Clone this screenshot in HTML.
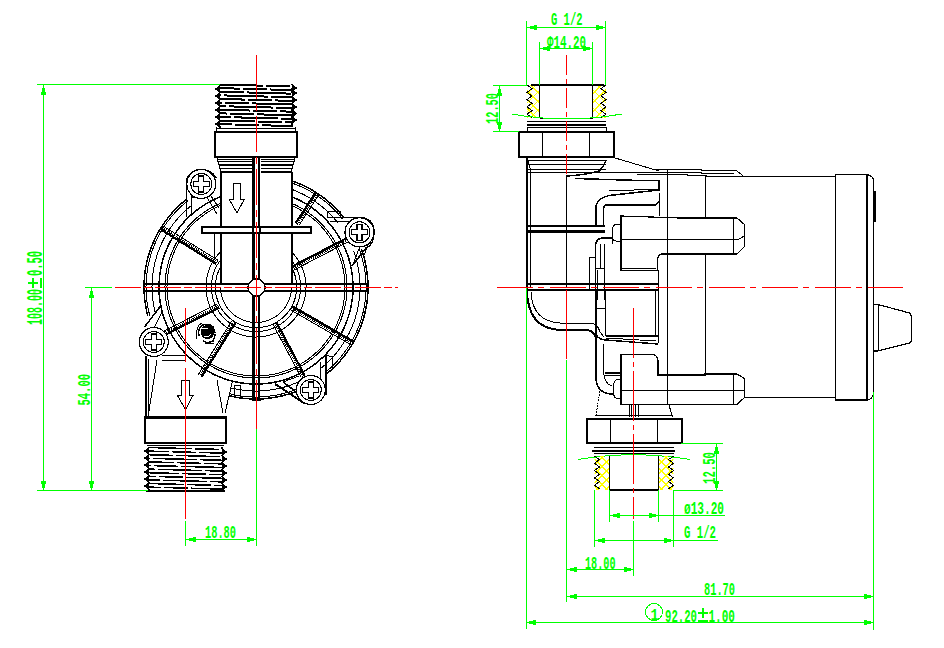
<!DOCTYPE html>
<html><head><meta charset="utf-8"><style>
html,body{margin:0;padding:0;background:#fff;width:944px;height:648px;overflow:hidden}
svg{display:block}
text{font-family:"Liberation Mono",monospace}
</style></head><body>
<svg width="944" height="648" viewBox="0 0 944 648" shape-rendering="crispEdges">
<polyline points="187.0,198.7 182.5,202.5 178.1,206.6 173.9,210.8 170.0,215.3 166.3,220.0 162.9,224.8 159.7,229.8 156.8,235.0 154.2,240.4 151.8,245.9 149.8,251.5 148.0,257.2 146.6,262.9 145.5,268.8 144.7,274.7 144.2,280.6 144.0,286.6 144.1,292.5 144.6,298.4 145.4,304.3 146.4,310.2 147.8,316.0" stroke="#000" stroke-width="1.5" fill="none" />
<polyline points="228.9,395.7 234.8,397.0 240.7,398.0 246.7,398.6 252.7,399.0 258.7,399.0 264.7,398.7 270.7,398.0 276.6,397.1 282.5,395.8 288.3,394.2 294.0,392.3 299.6,390.2 305.1,387.7" stroke="#000" stroke-width="1.5" fill="none" />
<polyline points="326.5,374.0 331.1,370.1 335.4,366.0 339.6,361.6 343.5,357.0 347.1,352.1 350.5,347.1 353.6,342.0 356.4,336.6 358.9,331.2 361.2,325.5 363.1,319.8 364.7,314.0 366.0,308.1 367.0,302.2 367.6,296.2 368.0,290.1 368.0,284.1 367.6,278.1 367.0,272.1 366.0,266.1 364.8,260.2 363.2,254.4 361.2,248.7" stroke="#000" stroke-width="1.5" fill="none" />
<polyline points="344.3,218.0 340.5,213.5 336.5,209.1 332.3,205.0 327.9,201.1 323.2,197.4 318.4,194.0 313.4,190.8 308.3,187.9 303.0,185.3 297.5,183.0 292.0,180.9" stroke="#000" stroke-width="1.5" fill="none" />
<polyline points="188.3,200.3 183.8,204.0 179.5,208.0 175.4,212.2 171.5,216.6 167.9,221.1 164.5,225.9 161.4,230.9 158.5,236.0 156.0,241.2 153.7,246.6 151.7,252.1 150.0,257.7 148.6,263.4 147.5,269.1 146.7,274.9 146.2,280.7 146.0,286.6 146.1,292.4 146.6,298.2 147.3,304.0 148.4,309.8 149.7,315.5" stroke="#000" stroke-width="1" fill="none" />
<polyline points="229.4,393.7 235.2,395.0 241.0,396.0 246.9,396.6 252.8,397.0 258.7,397.0 264.6,396.7 270.4,396.0 276.3,395.1 282.0,393.9 287.7,392.3 293.3,390.5 298.8,388.3 304.2,385.9" stroke="#000" stroke-width="1" fill="none" />
<polyline points="325.2,372.5 329.7,368.6 334.0,364.5 338.1,360.2 341.9,355.7 345.5,351.0 348.8,346.1 351.8,341.0 354.6,335.7 357.1,330.4 359.3,324.9 361.2,319.2 362.8,313.5 364.0,307.7 365.0,301.9 365.6,296.0 366.0,290.1 366.0,284.2 365.7,278.2 365.0,272.4 364.1,266.5 362.8,260.7 361.2,255.0 359.4,249.4" stroke="#000" stroke-width="1" fill="none" />
<polyline points="342.7,219.3 338.7,214.4 334.4,209.8 329.8,205.4 325.0,201.3 320.0,197.5 314.7,194.0 309.3,190.8 303.7,187.9 297.9,185.3 292.0,183.1" stroke="#000" stroke-width="1" fill="none" />
<polyline points="192.0,205.0 187.7,208.6 183.6,212.3 179.8,216.3 176.1,220.4 172.7,224.7 169.5,229.3 166.6,233.9 163.9,238.8 161.4,243.7 159.3,248.8 157.4,254.0 155.8,259.3 154.4,264.7 153.4,270.1 152.6,275.6 152.2,281.1 152.0,286.6 152.1,292.1 152.5,297.6 153.3,303.1 154.3,308.5 155.5,313.9" stroke="#000" stroke-width="1" fill="none" />
<polyline points="230.8,387.9 236.3,389.1 241.8,390.0 247.4,390.6 252.9,391.0 258.5,391.0 264.1,390.7 269.6,390.1 275.2,389.2 280.6,388.0 286.0,386.6 291.3,384.8 296.5,382.8 301.6,380.5" stroke="#000" stroke-width="1" fill="none" />
<polyline points="321.4,367.8 325.7,364.2 329.8,360.3 333.6,356.2 337.2,352.0 340.6,347.5 343.7,342.8 346.6,338.0 349.2,333.1 351.6,328.0 353.6,322.8 355.4,317.5 356.9,312.1 358.1,306.6 359.0,301.1 359.7,295.5 360.0,289.9 360.0,284.3 359.7,278.7 359.1,273.2 358.2,267.6 357.0,262.1 355.5,256.7 353.7,251.4" stroke="#000" stroke-width="1" fill="none" />
<polyline points="338.0,223.0 334.3,218.5 330.4,214.3 326.2,210.3 321.9,206.5 317.3,203.0 312.6,199.7 307.6,196.7 302.6,194.0 297.3,191.6 292.0,189.4" stroke="#000" stroke-width="1" fill="none" />
<polyline points="220.0,196.9 215.3,198.9 210.7,201.2 206.3,203.7 202.0,206.4 197.8,209.4 193.8,212.5 190.0,215.9 186.3,219.5 182.9,223.2 179.6,227.2 176.6,231.3 173.8,235.5 171.2,239.9 168.8,244.4 166.7,249.1 164.8,253.8 163.2,258.7 161.9,263.6 160.8,268.6 159.9,273.6 159.4,278.7 159.1,283.8 159.0,288.9 159.2,294.0 159.7,299.0 160.5,304.1 161.5,309.1 162.8,314.0 164.4,318.9 166.2,323.6 168.2,328.3 170.5,332.9 173.1,337.3 175.8,341.6 178.8,345.7 182.0,349.7 185.4,353.5 189.0,357.1 192.8,360.6 196.7,363.8 200.8,366.8 205.1,369.6 209.5,372.1 214.1,374.5 218.7,376.6 223.5,378.4 228.3,380.0 233.3,381.3 238.2,382.4 243.3,383.2 248.4,383.7 253.4,384.0 258.6,384.0 263.6,383.7 268.7,383.2 273.8,382.4 278.7,381.3 283.7,380.0 288.5,378.4 293.3,376.6 297.9,374.5 302.5,372.1 306.9,369.6 311.2,366.8 315.3,363.8 319.2,360.6 323.0,357.1 326.6,353.5 330.0,349.7 333.2,345.7 336.2,341.6 338.9,337.3 341.5,332.9 343.8,328.3 345.8,323.6 347.6,318.9 349.2,314.0 350.5,309.1 351.5,304.1 352.3,299.0 352.8,294.0 353.0,288.9 352.9,283.8 352.6,278.7 352.1,273.6 351.2,268.6 350.1,263.6 348.8,258.7 347.2,253.8 345.3,249.1 343.2,244.4 340.8,239.9 338.2,235.5 335.4,231.3 332.4,227.2 329.1,223.2 325.7,219.5 322.0,215.9 318.2,212.5 314.2,209.4 310.0,206.4 305.7,203.7 301.3,201.2 296.7,198.9 292.0,196.9" stroke="#000" stroke-width="1.5" fill="none" />
<polyline points="220.0,203.4 215.7,205.4 211.4,207.7 207.3,210.1 203.3,212.8 199.5,215.7 195.8,218.7 192.3,222.0 189.0,225.4 185.9,229.0 182.9,232.8 180.2,236.7 177.6,240.8 175.3,244.9 173.2,249.3 171.3,253.7 169.7,258.2 168.3,262.7 167.1,267.4 166.2,272.1 165.6,276.8 165.2,281.6 165.0,286.4 165.1,291.1 165.4,295.9 166.0,300.7 166.9,305.4 168.0,310.0 169.3,314.6 170.9,319.2 172.7,323.6 174.7,327.9 177.0,332.1 179.5,336.2 182.2,340.2 185.1,344.0 188.1,347.6 191.4,351.1 194.9,354.4 198.5,357.5 202.3,360.5 206.2,363.2 210.3,365.7 214.5,368.0 218.8,370.1 223.2,371.9 227.8,373.5 232.3,374.9 237.0,376.0 241.7,376.9 246.4,377.5 251.2,377.9 256.0,378.0 260.8,377.9 265.6,377.5 270.3,376.9 275.0,376.0 279.7,374.9 284.2,373.5 288.8,371.9 293.2,370.1 297.5,368.0 301.7,365.7 305.8,363.2 309.7,360.5 313.5,357.5 317.1,354.4 320.6,351.1 323.9,347.6 326.9,344.0 329.8,340.2 332.5,336.2 335.0,332.1 337.3,327.9 339.3,323.6 341.1,319.2 342.7,314.6 344.0,310.0 345.1,305.4 346.0,300.7 346.6,295.9 346.9,291.1 347.0,286.4 346.8,281.6 346.4,276.8 345.8,272.1 344.9,267.4 343.7,262.7 342.3,258.2 340.7,253.7 338.8,249.3 336.7,244.9 334.4,240.8 331.8,236.7 329.1,232.8 326.1,229.0 323.0,225.4 319.7,222.0 316.2,218.7 312.5,215.7 308.7,212.8 304.7,210.1 300.6,207.7 296.3,205.4 292.0,203.4" stroke="#000" stroke-width="1" fill="none" />
<polyline points="220.0,205.6 215.8,207.6 211.7,209.8 207.7,212.2 203.9,214.9 200.1,217.7 196.6,220.7 193.2,223.9 190.0,227.3 186.9,230.9 184.1,234.5 181.5,238.4 179.0,242.4 176.8,246.4 174.8,250.7 173.0,255.0 171.4,259.4 170.1,263.8 169.0,268.4 168.1,272.9 167.5,277.6 167.1,282.2 167.0,286.9 167.1,291.5 167.5,296.2 168.1,300.8 168.9,305.4 170.0,309.9 171.3,314.4 172.9,318.8 174.7,323.1 176.7,327.3 178.9,331.4 181.3,335.4 184.0,339.3 186.8,343.0 189.8,346.5 193.0,349.9 196.4,353.1 199.9,356.1 203.6,359.0 207.5,361.6 211.5,364.1 215.6,366.3 219.8,368.3 224.1,370.1 228.5,371.6 232.9,373.0 237.5,374.1 242.1,374.9 246.7,375.5 251.3,375.9 256.0,376.0 260.7,375.9 265.3,375.5 269.9,374.9 274.5,374.1 279.1,373.0 283.5,371.6 287.9,370.1 292.2,368.3 296.4,366.3 300.5,364.1 304.5,361.6 308.4,359.0 312.1,356.1 315.6,353.1 319.0,349.9 322.2,346.5 325.2,343.0 328.0,339.3 330.7,335.4 333.1,331.4 335.3,327.3 337.3,323.1 339.1,318.8 340.7,314.4 342.0,309.9 343.1,305.4 343.9,300.8 344.5,296.2 344.9,291.5 345.0,286.9 344.9,282.2 344.5,277.6 343.9,272.9 343.0,268.4 341.9,263.8 340.6,259.4 339.0,255.0 337.2,250.7 335.2,246.4 333.0,242.4 330.5,238.4 327.9,234.5 325.1,230.9 322.0,227.3 318.8,223.9 315.4,220.7 311.9,217.7 308.1,214.9 304.3,212.2 300.3,209.8 296.2,207.6 292.0,205.6" stroke="#000" stroke-width="1" fill="none" />
<polyline points="220.0,252.3 218.2,254.2 216.6,256.3 215.0,258.4 213.6,260.6 212.2,262.8 211.0,265.2 209.9,267.6 209.0,270.0 208.1,272.5 207.5,275.0 206.9,277.6 206.5,280.2 206.2,282.8 206.0,285.4 206.0,288.1 206.1,290.7 206.4,293.3 206.8,295.9 207.3,298.5 208.0,301.0 208.8,303.5 209.7,306.0 210.8,308.4 212.0,310.7 213.3,313.0 214.7,315.2 216.2,317.3 217.9,319.4 219.6,321.3 221.5,323.2 223.4,324.9 225.5,326.6 227.6,328.1 229.8,329.6 232.1,330.9 234.4,332.1 236.8,333.2 239.3,334.1 241.8,334.9 244.3,335.6 246.9,336.2 249.5,336.6 252.1,336.8 254.7,337.0 257.3,337.0 259.9,336.8 262.5,336.6 265.1,336.2 267.7,335.6 270.2,334.9 272.7,334.1 275.2,333.2 277.6,332.1 279.9,330.9 282.2,329.6 284.4,328.1 286.5,326.6 288.6,324.9 290.5,323.2 292.4,321.3 294.1,319.4 295.8,317.3 297.3,315.2 298.7,313.0 300.0,310.7 301.2,308.4 302.3,306.0 303.2,303.5 304.0,301.0 304.7,298.5 305.2,295.9 305.6,293.3 305.9,290.7 306.0,288.1 306.0,285.4 305.8,282.8 305.5,280.2 305.1,277.6 304.5,275.0 303.9,272.5 303.0,270.0 302.1,267.6 301.0,265.2 299.8,262.8 298.4,260.6 297.0,258.4 295.4,256.3 293.8,254.2 292.0,252.3" stroke="#000" stroke-width="1" fill="none" />
<polyline points="220.0,260.7 218.7,262.6 217.4,264.6 216.3,266.6 215.3,268.7 214.4,270.9 213.6,273.1 212.9,275.3 212.4,277.6 212.0,279.9 211.7,282.2 211.5,284.6 211.4,286.9 211.5,289.2 211.6,291.6 211.9,293.9 212.4,296.2 212.9,298.5 213.6,300.7 214.3,302.9 215.2,305.1 216.2,307.2 217.3,309.2 218.6,311.2 219.9,313.2 221.3,315.0 222.8,316.8 224.4,318.5 226.1,320.1 227.9,321.6 229.8,323.1 231.7,324.4 233.7,325.6 235.7,326.7 237.8,327.7 240.0,328.6 242.2,329.4 244.4,330.1 246.7,330.6 249.0,331.0 251.3,331.4 253.7,331.5 256.0,331.6 258.3,331.5 260.7,331.4 263.0,331.0 265.3,330.6 267.6,330.1 269.8,329.4 272.0,328.6 274.2,327.7 276.3,326.7 278.3,325.6 280.3,324.4 282.2,323.1 284.1,321.6 285.9,320.1 287.6,318.5 289.2,316.8 290.7,315.0 292.1,313.2 293.4,311.2 294.7,309.2 295.8,307.2 296.8,305.1 297.7,302.9 298.4,300.7 299.1,298.5 299.6,296.2 300.1,293.9 300.4,291.6 300.5,289.2 300.6,286.9 300.5,284.6 300.3,282.2 300.0,279.9 299.6,277.6 299.1,275.3 298.4,273.1 297.6,270.9 296.7,268.7 295.7,266.6 294.6,264.6 293.3,262.6 292.0,260.7" stroke="#000" stroke-width="1" fill="none" />
<polyline points="220.0,268.0 219.0,269.9 218.2,271.9 217.5,273.9 216.8,276.0 216.3,278.0 215.9,280.2 215.6,282.3 215.4,284.4 215.3,286.6 215.3,288.7 215.5,290.8 215.7,293.0 216.1,295.1 216.6,297.2 217.2,299.2 217.9,301.3 218.7,303.3 219.6,305.2 220.6,307.1 221.7,308.9 222.9,310.7 224.2,312.4 225.6,314.1 227.1,315.6 228.6,317.1 230.2,318.5 231.9,319.8 233.7,321.0 235.5,322.2 237.4,323.2 239.3,324.1 241.3,325.0 243.3,325.7 245.4,326.3 247.5,326.8 249.6,327.2 251.7,327.5 253.9,327.6 256.0,327.7 258.1,327.6 260.3,327.5 262.4,327.2 264.5,326.8 266.6,326.3 268.7,325.7 270.7,325.0 272.7,324.1 274.6,323.2 276.5,322.2 278.3,321.0 280.1,319.8 281.8,318.5 283.4,317.1 284.9,315.6 286.4,314.1 287.8,312.4 289.1,310.7 290.3,308.9 291.4,307.1 292.4,305.2 293.3,303.3 294.1,301.3 294.8,299.2 295.4,297.2 295.9,295.1 296.3,293.0 296.5,290.8 296.7,288.7 296.7,286.6 296.6,284.4 296.4,282.3 296.1,280.2 295.7,278.0 295.2,276.0 294.5,273.9 293.8,271.9 293.0,269.9 292.0,268.0" stroke="#000" stroke-width="1" fill="none" />
<polyline points="220.5,287.0 220.5,288.9 220.7,290.7 220.9,292.6 221.3,294.4 221.7,296.2 222.2,298.0 222.9,299.7 223.6,301.4 224.4,303.1 225.3,304.8 226.2,306.3 227.3,307.9 228.4,309.3 229.6,310.8 230.9,312.1 232.2,313.4 233.7,314.6 235.1,315.7 236.7,316.8 238.2,317.7 239.9,318.6 241.6,319.4 243.3,320.1 245.0,320.8 246.8,321.3 248.6,321.7 250.4,322.1 252.3,322.3 254.1,322.5 256.0,322.5 257.9,322.5 259.7,322.3 261.6,322.1 263.4,321.7 265.2,321.3 267.0,320.8 268.7,320.1 270.4,319.4 272.1,318.6 273.8,317.7 275.3,316.8 276.9,315.7 278.3,314.6 279.8,313.4 281.1,312.1 282.4,310.8 283.6,309.3 284.7,307.9 285.8,306.3 286.7,304.8 287.6,303.1 288.4,301.4 289.1,299.7 289.8,298.0 290.3,296.2 290.7,294.4 291.1,292.6 291.3,290.7 291.5,288.9 291.5,287.0" stroke="#000" stroke-width="1" fill="none" />
<line x1="295.6" y1="223.3" x2="315.7" y2="192.3" stroke="#000" stroke-width="2.2" />
<line x1="297.3" y1="224.4" x2="317.4" y2="193.3" stroke="#000" stroke-width="2" stroke-dasharray="1,1"/>
<line x1="298.9" y1="225.5" x2="319.1" y2="194.4" stroke="#000" stroke-width="1" />
<line x1="292.6" y1="266.3" x2="351.1" y2="235.8" stroke="#000" stroke-width="2.2" />
<line x1="293.5" y1="268.1" x2="352.0" y2="237.6" stroke="#000" stroke-width="2" stroke-dasharray="1,1"/>
<line x1="294.4" y1="269.8" x2="353.0" y2="239.3" stroke="#000" stroke-width="1" />
<line x1="292.3" y1="306.2" x2="353.7" y2="341.7" stroke="#000" stroke-width="2.2" />
<line x1="291.3" y1="307.9" x2="352.7" y2="343.4" stroke="#000" stroke-width="2" stroke-dasharray="1,1"/>
<line x1="290.3" y1="309.7" x2="351.7" y2="345.2" stroke="#000" stroke-width="1" />
<line x1="276.3" y1="322.1" x2="304.7" y2="375.5" stroke="#000" stroke-width="2.2" />
<line x1="274.6" y1="323.0" x2="303.0" y2="376.4" stroke="#000" stroke-width="2" stroke-dasharray="1,1"/>
<line x1="272.8" y1="323.9" x2="301.2" y2="377.4" stroke="#000" stroke-width="1" />
<line x1="235.5" y1="322.6" x2="201.6" y2="376.8" stroke="#000" stroke-width="2.2" />
<line x1="233.8" y1="321.5" x2="199.9" y2="375.8" stroke="#000" stroke-width="2" stroke-dasharray="1,1"/>
<line x1="232.2" y1="320.4" x2="198.2" y2="374.7" stroke="#000" stroke-width="1" />
<line x1="219.3" y1="307.4" x2="164.9" y2="335.1" stroke="#000" stroke-width="2.2" />
<line x1="218.4" y1="305.6" x2="164.0" y2="333.3" stroke="#000" stroke-width="2" stroke-dasharray="1,1"/>
<line x1="217.4" y1="303.8" x2="163.1" y2="331.5" stroke="#000" stroke-width="1" />
<line x1="216.2" y1="263.9" x2="160.2" y2="228.9" stroke="#000" stroke-width="2.2" />
<line x1="217.3" y1="262.2" x2="161.3" y2="227.2" stroke="#000" stroke-width="2" stroke-dasharray="1,1"/>
<line x1="218.3" y1="260.5" x2="162.3" y2="225.5" stroke="#000" stroke-width="1" />
<line x1="144" y1="284" x2="369" y2="284" stroke="#000" stroke-width="2" />
<line x1="144" y1="290.5" x2="369" y2="290.5" stroke="#000" stroke-width="2" />
<line x1="144" y1="286" x2="144" y2="289" stroke="#000" stroke-width="1" />
<line x1="253.5" y1="157" x2="253.5" y2="401" stroke="#000" stroke-width="3" />
<line x1="259" y1="157" x2="259" y2="401" stroke="#000" stroke-width="2" />
<line x1="252" y1="400.5" x2="261" y2="400.5" stroke="#000" stroke-width="1" />
<circle cx="256.5" cy="287.5" r="8.5" stroke="#000" stroke-width="1.5" fill="#fff"/>
<line x1="252" y1="287.5" x2="261" y2="287.5" stroke="#ff0000" stroke-width="1" />
<line x1="256.5" y1="283" x2="256.5" y2="292" stroke="#ff0000" stroke-width="1" />
<line x1="220.5" y1="172" x2="220.5" y2="284" stroke="#000" stroke-width="2" />
<line x1="291.5" y1="172" x2="291.5" y2="284" stroke="#000" stroke-width="2" />
<line x1="214.5" y1="233" x2="214.5" y2="258" stroke="#000" stroke-width="1" />
<rect x="201.5" y="226.5" width="109" height="6" stroke="#000" stroke-width="2" fill="#fff"/>
<line x1="253" y1="226" x2="253" y2="233" stroke="#000" stroke-width="2" />
<line x1="259.5" y1="226" x2="259.5" y2="233" stroke="#000" stroke-width="2" />
<line x1="217" y1="159.5" x2="252" y2="159.5" stroke="#000" stroke-width="1.2" />
<line x1="260.5" y1="159.5" x2="295" y2="159.5" stroke="#000" stroke-width="1.2" />
<line x1="218" y1="161.5" x2="252" y2="161.5" stroke="#000" stroke-width="1.2" />
<line x1="260.5" y1="161.5" x2="294" y2="161.5" stroke="#000" stroke-width="1.2" />
<line x1="219" y1="165" x2="252" y2="165" stroke="#000" stroke-width="1.2" />
<line x1="260.5" y1="165" x2="293" y2="165" stroke="#000" stroke-width="1.2" />
<line x1="220" y1="168.5" x2="252" y2="168.5" stroke="#000" stroke-width="1.2" />
<line x1="260.5" y1="168.5" x2="292" y2="168.5" stroke="#000" stroke-width="1.2" />
<line x1="221" y1="172" x2="252" y2="172" stroke="#000" stroke-width="1.5" />
<line x1="260.5" y1="172" x2="291" y2="172" stroke="#000" stroke-width="1.5" />
<line x1="217" y1="158" x2="221" y2="172" stroke="#000" stroke-width="1" />
<line x1="295" y1="158" x2="291" y2="172" stroke="#000" stroke-width="1" />
<rect x="215" y="132" width="82" height="25" stroke="#000" stroke-width="2.5" fill="#fff"/>
<line x1="253" y1="157" x2="253" y2="160" stroke="#000" stroke-width="2" />
<line x1="216.5" y1="128.5" x2="295.5" y2="128.5" stroke="#000" stroke-width="1" />
<line x1="216.5" y1="127" x2="216.5" y2="131" stroke="#000" stroke-width="1" />
<line x1="295.5" y1="127" x2="295.5" y2="131" stroke="#000" stroke-width="1" />
<line x1="219" y1="84.5" x2="293" y2="86.5" stroke="#000" stroke-width="2" stroke-dasharray="44,3,24,3" stroke-dashoffset="0"/>
<line x1="219" y1="88.1" x2="293" y2="90.1" stroke="#000" stroke-width="2" stroke-dasharray="44,3,24,3" stroke-dashoffset="23"/>
<line x1="219" y1="91.7" x2="293" y2="93.7" stroke="#000" stroke-width="2" stroke-dasharray="44,3,24,3" stroke-dashoffset="46"/>
<line x1="219" y1="95.3" x2="293" y2="97.3" stroke="#000" stroke-width="2" stroke-dasharray="44,3,24,3" stroke-dashoffset="69"/>
<line x1="219" y1="98.9" x2="293" y2="100.9" stroke="#000" stroke-width="2" stroke-dasharray="44,3,24,3" stroke-dashoffset="18"/>
<line x1="219" y1="102.5" x2="293" y2="104.5" stroke="#000" stroke-width="2" stroke-dasharray="44,3,24,3" stroke-dashoffset="41"/>
<line x1="219" y1="106.1" x2="293" y2="108.1" stroke="#000" stroke-width="2" stroke-dasharray="44,3,24,3" stroke-dashoffset="64"/>
<line x1="219" y1="109.7" x2="293" y2="111.7" stroke="#000" stroke-width="2" stroke-dasharray="44,3,24,3" stroke-dashoffset="13"/>
<line x1="219" y1="113.3" x2="293" y2="115.3" stroke="#000" stroke-width="2" stroke-dasharray="44,3,24,3" stroke-dashoffset="36"/>
<line x1="219" y1="116.9" x2="293" y2="118.9" stroke="#000" stroke-width="2" stroke-dasharray="44,3,24,3" stroke-dashoffset="59"/>
<line x1="219" y1="120.5" x2="293" y2="122.5" stroke="#000" stroke-width="2" stroke-dasharray="44,3,24,3" stroke-dashoffset="8"/>
<line x1="219" y1="124.1" x2="293" y2="126.1" stroke="#000" stroke-width="2" stroke-dasharray="44,3,24,3" stroke-dashoffset="31"/>
<polyline points="220.0,84.0 220.0,85.5 216.0,89.0 220.0,92.5 220.0,92.5 216.0,96.0 220.0,99.5 220.0,99.5 216.0,103.0 220.0,106.5 220.0,106.5 216.0,110.0 220.0,113.5 220.0,113.5 216.0,117.0 220.0,120.5 220.0,120.5 216.0,124.0 220.0,127.5 220.0,126.0" stroke="#000" stroke-width="1.5" fill="none" />
<polyline points="292.0,84.0 292.0,84.5 296.0,88.0 292.0,91.5 292.0,89.5 296.0,93.0 292.0,96.5 292.0,96.5 296.0,100.0 292.0,103.5 292.0,103.5 296.0,107.0 292.0,110.5 292.0,110.0 296.0,113.5 292.0,117.0 292.0,116.5 296.0,120.0 292.0,123.5 292.0,126.0" stroke="#000" stroke-width="1.5" fill="none" />
<polygon points="216.5,89.0 220.0,87.0 220.0,91.0" stroke="none" stroke-width="1" fill="#000" />
<polygon points="216.5,96.0 220.0,94.0 220.0,98.0" stroke="none" stroke-width="1" fill="#000" />
<polygon points="216.5,103.0 220.0,101.0 220.0,105.0" stroke="none" stroke-width="1" fill="#000" />
<polygon points="216.5,110.0 220.0,108.0 220.0,112.0" stroke="none" stroke-width="1" fill="#000" />
<polygon points="216.5,117.0 220.0,115.0 220.0,119.0" stroke="none" stroke-width="1" fill="#000" />
<polygon points="216.5,124.0 220.0,122.0 220.0,126.0" stroke="none" stroke-width="1" fill="#000" />
<polygon points="295.5,88.0 292.0,86.0 292.0,90.0" stroke="none" stroke-width="1" fill="#000" />
<polygon points="295.5,93.0 292.0,91.0 292.0,95.0" stroke="none" stroke-width="1" fill="#000" />
<polygon points="295.5,100.0 292.0,98.0 292.0,102.0" stroke="none" stroke-width="1" fill="#000" />
<polygon points="295.5,107.0 292.0,105.0 292.0,109.0" stroke="none" stroke-width="1" fill="#000" />
<polygon points="295.5,113.5 292.0,111.5 292.0,115.5" stroke="none" stroke-width="1" fill="#000" />
<polygon points="295.5,120.0 292.0,118.0 292.0,122.0" stroke="none" stroke-width="1" fill="#000" />
<polygon points="233.5,183.5 240.5,183.5 240.5,199.0 244.5,199.0 237.0,213.0 229.0,199.0 233.5,199.0" stroke="#000" stroke-width="1" fill="none" />
<line x1="186.5" y1="180" x2="186.5" y2="217" stroke="#000" stroke-width="1.5" />
<line x1="191.5" y1="195" x2="191.5" y2="214" stroke="#000" stroke-width="1" />
<line x1="192" y1="197" x2="206" y2="197" stroke="#000" stroke-width="2" />
<line x1="206" y1="196" x2="217" y2="214" stroke="#000" stroke-width="1" />
<line x1="209" y1="193" x2="219" y2="208" stroke="#000" stroke-width="1" />
<path d="M186.5,180 Q190,170 201,169.5 Q212,170 216,178" stroke="#000" stroke-width="1.5" fill="none"/>
<path d="M327.5,217.5 L359.5,217.5 Q374,218 374,232 Q374,245 366,248 L352,266" stroke="#000" stroke-width="1.5" fill="none"/>
<line x1="330" y1="221" x2="350" y2="221" stroke="#000" stroke-width="1" />
<rect x="327.5" y="211" width="12.5" height="6.5" stroke="#000" stroke-width="1" fill="none"/>
<line x1="360" y1="246" x2="352.5" y2="266" stroke="#000" stroke-width="1" />
<line x1="369" y1="242" x2="363" y2="258" stroke="#000" stroke-width="1" />
<path d="M144.5,327 L161,305.5" stroke="#000" stroke-width="1.5" fill="none"/>
<line x1="153.8" y1="328.5" x2="163" y2="310.5" stroke="#000" stroke-width="1" />
<line x1="146" y1="356" x2="146" y2="417" stroke="#000" stroke-width="1.5" />
<line x1="157" y1="360" x2="148.5" y2="414" stroke="#000" stroke-width="1" />
<line x1="162" y1="355" x2="186" y2="355" stroke="#000" stroke-width="1" />
<line x1="162" y1="360.5" x2="186" y2="360.5" stroke="#000" stroke-width="1.5" />
<line x1="275" y1="384" x2="304" y2="403" stroke="#000" stroke-width="2" />
<line x1="283" y1="382" x2="297.5" y2="393" stroke="#000" stroke-width="1.5" />
<line x1="283" y1="382" x2="299" y2="376" stroke="#000" stroke-width="1" />
<line x1="326" y1="355" x2="326" y2="395" stroke="#000" stroke-width="2" />
<line x1="320.5" y1="362" x2="320.5" y2="382" stroke="#000" stroke-width="1.5" />
<line x1="332" y1="356" x2="332" y2="370" stroke="#000" stroke-width="1" />
<line x1="326" y1="355.5" x2="332" y2="356.5" stroke="#000" stroke-width="1" />
<circle cx="207.5" cy="332" r="6.5" stroke="#000" stroke-width="1" fill="#000"/>
<path d="M199,336 Q197,328 203,325 Q209,323 213,327 L215,333" stroke="#000" stroke-width="1.5" fill="none"/>
<path d="M197,339 Q195,326 202,323" stroke="#000" stroke-width="1" fill="none"/>
<path d="M203,341 Q208,344 213,341 Q215,338 215,334" stroke="#000" stroke-width="1.5" fill="none"/>
<path d="M205,343.5 L213.5,343.5" stroke="#000" stroke-width="1" fill="none"/>
<path d="M202,329 Q205,327 208,329 M204,336 Q208,338 211,334" stroke="#fff" stroke-width="1" fill="none"/>
<circle cx="201.3" cy="184" r="14.5" stroke="#000" stroke-width="1.2" fill="#fff"/>
<circle cx="201.3" cy="184" r="10.5" stroke="#000" stroke-width="1" fill="none"/>
<polygon points="198.8,176.0 203.8,176.0 203.8,181.5 209.3,181.5 209.3,186.5 203.8,186.5 203.8,192.0 198.8,192.0 198.8,186.5 193.3,186.5 193.3,181.5 198.8,181.5" stroke="#000" stroke-width="1.2" fill="none" />
<circle cx="359.5" cy="232.3" r="14.5" stroke="#000" stroke-width="1.2" fill="#fff"/>
<circle cx="359.5" cy="232.3" r="10.5" stroke="#000" stroke-width="1" fill="none"/>
<polygon points="357.0,224.3 362.0,224.3 362.0,229.8 367.5,229.8 367.5,234.8 362.0,234.8 362.0,240.3 357.0,240.3 357.0,234.8 351.5,234.8 351.5,229.8 357.0,229.8" stroke="#000" stroke-width="1.2" fill="none" />
<circle cx="153.8" cy="342" r="14.5" stroke="#000" stroke-width="1.2" fill="#fff"/>
<circle cx="153.8" cy="342" r="10.5" stroke="#000" stroke-width="1" fill="none"/>
<polygon points="151.3,334.0 156.3,334.0 156.3,339.5 161.8,339.5 161.8,344.5 156.3,344.5 156.3,350.0 151.3,350.0 151.3,344.5 145.8,344.5 145.8,339.5 151.3,339.5" stroke="#000" stroke-width="1.2" fill="none" />
<circle cx="310.8" cy="390" r="14.5" stroke="#000" stroke-width="1.2" fill="#fff"/>
<circle cx="310.8" cy="390" r="10.5" stroke="#000" stroke-width="1" fill="none"/>
<polygon points="308.3,382.0 313.3,382.0 313.3,387.5 318.8,387.5 318.8,392.5 313.3,392.5 313.3,398.0 308.3,398.0 308.3,392.5 302.8,392.5 302.8,387.5 308.3,387.5" stroke="#000" stroke-width="1.2" fill="none" />
<line x1="148.5" y1="359" x2="148.5" y2="417" stroke="#000" stroke-width="1" />
<line x1="217" y1="380" x2="223" y2="413" stroke="#000" stroke-width="1" />
<line x1="232.5" y1="381" x2="225" y2="413" stroke="#000" stroke-width="1" />
<rect x="234" y="385" width="6" height="12" stroke="#000" stroke-width="1" fill="none"/>
<rect x="145" y="417.5" width="81" height="25.5" stroke="#000" stroke-width="2.5" fill="#fff"/>
<line x1="185.5" y1="417" x2="185.5" y2="443" stroke="#000" stroke-width="1" />
<line x1="147" y1="445" x2="224" y2="445" stroke="#000" stroke-width="1" />
<line x1="148" y1="447.5" x2="223" y2="449.5" stroke="#000" stroke-width="1.5" stroke-dasharray="44,3,24,3" stroke-dashoffset="0"/>
<line x1="148" y1="451.1" x2="223" y2="453.1" stroke="#000" stroke-width="1.5" stroke-dasharray="44,3,24,3" stroke-dashoffset="23"/>
<line x1="148" y1="454.7" x2="223" y2="456.7" stroke="#000" stroke-width="1.5" stroke-dasharray="44,3,24,3" stroke-dashoffset="46"/>
<line x1="148" y1="458.3" x2="223" y2="460.3" stroke="#000" stroke-width="1.5" stroke-dasharray="44,3,24,3" stroke-dashoffset="69"/>
<line x1="148" y1="461.9" x2="223" y2="463.9" stroke="#000" stroke-width="1.5" stroke-dasharray="44,3,24,3" stroke-dashoffset="18"/>
<line x1="148" y1="465.5" x2="223" y2="467.5" stroke="#000" stroke-width="1.5" stroke-dasharray="44,3,24,3" stroke-dashoffset="41"/>
<line x1="148" y1="469.1" x2="223" y2="471.1" stroke="#000" stroke-width="1.5" stroke-dasharray="44,3,24,3" stroke-dashoffset="64"/>
<line x1="148" y1="472.7" x2="223" y2="474.7" stroke="#000" stroke-width="1.5" stroke-dasharray="44,3,24,3" stroke-dashoffset="13"/>
<line x1="148" y1="476.3" x2="223" y2="478.3" stroke="#000" stroke-width="1.5" stroke-dasharray="44,3,24,3" stroke-dashoffset="36"/>
<line x1="148" y1="479.9" x2="223" y2="481.9" stroke="#000" stroke-width="1.5" stroke-dasharray="44,3,24,3" stroke-dashoffset="59"/>
<line x1="148" y1="483.5" x2="223" y2="485.5" stroke="#000" stroke-width="1.5" stroke-dasharray="44,3,24,3" stroke-dashoffset="8"/>
<line x1="148" y1="487.1" x2="223" y2="489.1" stroke="#000" stroke-width="1.5" stroke-dasharray="44,3,24,3" stroke-dashoffset="31"/>
<polyline points="149.0,447.0 149.0,447.5 145.0,451.0 149.0,454.5 149.0,454.5 145.0,458.0 149.0,461.5 149.0,461.5 145.0,465.0 149.0,468.5 149.0,468.5 145.0,472.0 149.0,475.5 149.0,475.5 145.0,479.0 149.0,482.5 149.0,482.5 145.0,486.0 149.0,489.5 149.0,490.0" stroke="#000" stroke-width="1.5" fill="none" />
<polyline points="222.0,447.0 222.0,448.5 226.0,452.0 222.0,455.5 222.0,455.5 226.0,459.0 222.0,462.5 222.0,462.5 226.0,466.0 222.0,469.5 222.0,469.5 226.0,473.0 222.0,476.5 222.0,476.5 226.0,480.0 222.0,483.5 222.0,483.5 226.0,487.0 222.0,490.5 222.0,490.0" stroke="#000" stroke-width="1.5" fill="none" />
<polygon points="145.5,451.0 149.0,449.0 149.0,453.0" stroke="none" stroke-width="1" fill="#000" />
<polygon points="145.5,458.0 149.0,456.0 149.0,460.0" stroke="none" stroke-width="1" fill="#000" />
<polygon points="145.5,465.0 149.0,463.0 149.0,467.0" stroke="none" stroke-width="1" fill="#000" />
<polygon points="145.5,472.0 149.0,470.0 149.0,474.0" stroke="none" stroke-width="1" fill="#000" />
<polygon points="145.5,479.0 149.0,477.0 149.0,481.0" stroke="none" stroke-width="1" fill="#000" />
<polygon points="145.5,486.0 149.0,484.0 149.0,488.0" stroke="none" stroke-width="1" fill="#000" />
<polygon points="225.5,452.0 222.0,450.0 222.0,454.0" stroke="none" stroke-width="1" fill="#000" />
<polygon points="225.5,459.0 222.0,457.0 222.0,461.0" stroke="none" stroke-width="1" fill="#000" />
<polygon points="225.5,466.0 222.0,464.0 222.0,468.0" stroke="none" stroke-width="1" fill="#000" />
<polygon points="225.5,473.0 222.0,471.0 222.0,475.0" stroke="none" stroke-width="1" fill="#000" />
<polygon points="225.5,480.0 222.0,478.0 222.0,482.0" stroke="none" stroke-width="1" fill="#000" />
<polygon points="225.5,487.0 222.0,485.0 222.0,489.0" stroke="none" stroke-width="1" fill="#000" />
<line x1="146" y1="490.5" x2="225" y2="490.5" stroke="#000" stroke-width="2" />
<polygon points="181.5,380.5 189.5,380.5 189.5,395.5 193.0,395.5 185.5,409.5 177.5,395.5 181.5,395.5" stroke="#000" stroke-width="1" fill="none" />
<clipPath id="c527_85"><rect x="527" y="85" width="12.5" height="33"/></clipPath>
<g clip-path="url(#c527_85)"><line x1="527" y1="72.5" x2="539.5" y2="85.0" stroke="#ffff00" stroke-width="1"/><line x1="527" y1="85.0" x2="539.5" y2="72.5" stroke="#ffff00" stroke-width="1"/><line x1="527" y1="81.5" x2="539.5" y2="94.0" stroke="#ffff00" stroke-width="1"/><line x1="527" y1="94.0" x2="539.5" y2="81.5" stroke="#ffff00" stroke-width="1"/><line x1="527" y1="90.5" x2="539.5" y2="103.0" stroke="#ffff00" stroke-width="1"/><line x1="527" y1="103.0" x2="539.5" y2="90.5" stroke="#ffff00" stroke-width="1"/><line x1="527" y1="99.5" x2="539.5" y2="112.0" stroke="#ffff00" stroke-width="1"/><line x1="527" y1="112.0" x2="539.5" y2="99.5" stroke="#ffff00" stroke-width="1"/><line x1="527" y1="108.5" x2="539.5" y2="121.0" stroke="#ffff00" stroke-width="1"/><line x1="527" y1="121.0" x2="539.5" y2="108.5" stroke="#ffff00" stroke-width="1"/><line x1="527" y1="117.5" x2="539.5" y2="130.0" stroke="#ffff00" stroke-width="1"/><line x1="527" y1="130.0" x2="539.5" y2="117.5" stroke="#ffff00" stroke-width="1"/><line x1="527" y1="126.5" x2="539.5" y2="139.0" stroke="#ffff00" stroke-width="1"/><line x1="527" y1="139.0" x2="539.5" y2="126.5" stroke="#ffff00" stroke-width="1"/></g>
<polyline points="527.0,85.0 532.0,88.7 527.0,92.3 532.0,96.0 527.0,99.6 532.0,103.3 527.0,106.9 532.0,110.6 527.0,114.2 532.0,117.9" stroke="#000" stroke-width="1" fill="none" />
<line x1="539.5" y1="85" x2="539.5" y2="118" stroke="#000" stroke-width="1.5" />
<clipPath id="c606_85"><rect x="592.5" y="85" width="13.5" height="33"/></clipPath>
<g clip-path="url(#c606_85)"><line x1="592.5" y1="71.5" x2="606" y2="85.0" stroke="#ffff00" stroke-width="1"/><line x1="592.5" y1="85.0" x2="606" y2="71.5" stroke="#ffff00" stroke-width="1"/><line x1="592.5" y1="80.5" x2="606" y2="94.0" stroke="#ffff00" stroke-width="1"/><line x1="592.5" y1="94.0" x2="606" y2="80.5" stroke="#ffff00" stroke-width="1"/><line x1="592.5" y1="89.5" x2="606" y2="103.0" stroke="#ffff00" stroke-width="1"/><line x1="592.5" y1="103.0" x2="606" y2="89.5" stroke="#ffff00" stroke-width="1"/><line x1="592.5" y1="98.5" x2="606" y2="112.0" stroke="#ffff00" stroke-width="1"/><line x1="592.5" y1="112.0" x2="606" y2="98.5" stroke="#ffff00" stroke-width="1"/><line x1="592.5" y1="107.5" x2="606" y2="121.0" stroke="#ffff00" stroke-width="1"/><line x1="592.5" y1="121.0" x2="606" y2="107.5" stroke="#ffff00" stroke-width="1"/><line x1="592.5" y1="116.5" x2="606" y2="130.0" stroke="#ffff00" stroke-width="1"/><line x1="592.5" y1="130.0" x2="606" y2="116.5" stroke="#ffff00" stroke-width="1"/><line x1="592.5" y1="125.5" x2="606" y2="139.0" stroke="#ffff00" stroke-width="1"/><line x1="592.5" y1="139.0" x2="606" y2="125.5" stroke="#ffff00" stroke-width="1"/></g>
<polyline points="606.0,85.0 601.0,88.7 606.0,92.3 601.0,96.0 606.0,99.6 601.0,103.3 606.0,106.9 601.0,110.6 606.0,114.2 601.0,117.9" stroke="#000" stroke-width="1" fill="none" />
<line x1="592.5" y1="85" x2="592.5" y2="118" stroke="#000" stroke-width="1.5" />
<line x1="531" y1="85" x2="604" y2="85" stroke="#000" stroke-width="2" />
<line x1="539.5" y1="118.5" x2="592.5" y2="118.5" stroke="#000" stroke-width="1" />
<path d="M512,114 Q566,124 622,114" stroke="#00ff00" stroke-width="1" fill="none"/>
<line x1="527" y1="121.5" x2="606" y2="121.5" stroke="#000" stroke-width="1.5" />
<line x1="527" y1="124.5" x2="606" y2="124.5" stroke="#000" stroke-width="2" />
<line x1="527" y1="127.5" x2="606" y2="127.5" stroke="#000" stroke-width="1" />
<line x1="527" y1="127" x2="527" y2="131" stroke="#000" stroke-width="1" />
<line x1="606" y1="127" x2="606" y2="131" stroke="#000" stroke-width="1" />
<rect x="519" y="132" width="94.5" height="24.5" stroke="#000" stroke-width="2" fill="#fff"/>
<line x1="542.5" y1="132" x2="542.5" y2="156" stroke="#000" stroke-width="1.5" />
<line x1="589.5" y1="132" x2="589.5" y2="156" stroke="#000" stroke-width="1.5" />
<line x1="527" y1="160.5" x2="606" y2="160.5" stroke="#000" stroke-width="1" />
<line x1="527" y1="164" x2="606" y2="164" stroke="#000" stroke-width="1" />
<line x1="527" y1="169.5" x2="606" y2="169.5" stroke="#000" stroke-width="1" />
<line x1="527" y1="172" x2="606" y2="172" stroke="#000" stroke-width="1" />
<line x1="527" y1="158" x2="531" y2="171" stroke="#000" stroke-width="1" />
<line x1="527" y1="157" x2="527" y2="289" stroke="#000" stroke-width="2" />
<line x1="530.5" y1="171" x2="530.5" y2="287" stroke="#000" stroke-width="1.5" />
<line x1="566.5" y1="175" x2="566.5" y2="287" stroke="#000" stroke-width="1" />
<line x1="527" y1="226" x2="605" y2="226" stroke="#000" stroke-width="2" />
<line x1="527" y1="230.5" x2="605" y2="230.5" stroke="#000" stroke-width="2" />
<line x1="527" y1="232.8" x2="605" y2="232.8" stroke="#000" stroke-width="1" />
<path d="M527,289 C527,318 540,329 560,330 L588,330 Q596,332 596,340" stroke="#000" stroke-width="2" fill="none"/>
<path d="M531,292 C532,314 544,322 560,323 L590,323 Q598,324 600,332 L604,337" stroke="#000" stroke-width="1" fill="none"/>
<line x1="613.5" y1="157.5" x2="659" y2="171" stroke="#000" stroke-width="1" />
<line x1="605.5" y1="172" x2="655" y2="173" stroke="#000" stroke-width="1" />
<path d="M637,174.5 L687,174.5 L687,175.5 L706,175.5 L706,176.5 L835,176.5" stroke="#000" stroke-width="1" fill="none"/>
<path d="M655.5,169.5 L701,169.5 L701,170.5 L736,170.5 L743,175.5" stroke="#000" stroke-width="1" fill="none"/>
<path d="M655,172.5 L701,172.5 L701,173.5 L734,173.5" stroke="#000" stroke-width="1" fill="none"/>
<path d="M606,160 Q603,168 599,171 Q585,175 566.5,176" stroke="#000" stroke-width="1.5" fill="none"/>
<path d="M575,178.5 L640,180.5 L659,180.5 L659,190 L609,195.5 Q598,198 596,206 L596,226" stroke="#000" stroke-width="1.5" fill="none"/>
<line x1="609" y1="191" x2="659" y2="189" stroke="#000" stroke-width="1" />
<path d="M603.7,226 L603.7,208 Q604,204.8 608,204.8 L655.5,204.8 L659.5,201 M659.5,193 L659.5,216" stroke="#000" stroke-width="1.5" fill="none"/>
<path d="M621,270.5 L621,216 L680,218 L737,218 L744.5,224.5 L744.5,246.5 L737,254 L662,254 Q657.8,254 657.8,259 L657.8,270.5 L621,270.5" stroke="#000" stroke-width="1.2" fill="none"/>
<line x1="621" y1="268" x2="656" y2="268" stroke="#000" stroke-width="1" />
<path d="M621,239.5 L738,239.5 L744.5,236" stroke="#000" stroke-width="1" fill="none"/>
<line x1="733.5" y1="218" x2="733.5" y2="254" stroke="#000" stroke-width="1" />
<path d="M621,224 L616,224 Q612,226 612,232 L612,236 Q612,241 616,241 L621,241" stroke="#000" stroke-width="1" fill="none"/>
<path d="M595.7,300 L595.7,244 Q597,238 603.2,238 L612.4,238 L612.4,244" stroke="#000" stroke-width="1.5" fill="none"/>
<line x1="600" y1="244" x2="600" y2="268" stroke="#000" stroke-width="1" />
<line x1="604.5" y1="244" x2="604.5" y2="300" stroke="#000" stroke-width="1.5" />
<line x1="597.8" y1="270" x2="597.8" y2="300" stroke="#000" stroke-width="1" />
<line x1="596" y1="268.3" x2="604.5" y2="268.3" stroke="#000" stroke-width="1" />
<path d="M589.5,291 L589.5,257 L595.7,257" stroke="#000" stroke-width="1" fill="none"/>
<line x1="527" y1="284" x2="658" y2="284" stroke="#000" stroke-width="2" />
<line x1="527" y1="290" x2="658" y2="290" stroke="#000" stroke-width="2" />
<line x1="655.5" y1="290" x2="655.5" y2="336" stroke="#000" stroke-width="1" />
<line x1="658.5" y1="270" x2="658.5" y2="343" stroke="#000" stroke-width="1" />
<line x1="605.5" y1="290" x2="605.5" y2="336" stroke="#000" stroke-width="1.5" />
<line x1="605.5" y1="335.8" x2="658.5" y2="335.8" stroke="#000" stroke-width="2" />
<path d="M596,335 Q600,340 606,340 L658,344" stroke="#000" stroke-width="1.5" fill="none"/>
<line x1="606" y1="338" x2="656" y2="341" stroke="#000" stroke-width="1" />
<path d="M596,290 L596,380 Q598,393 611,394 L612.5,394" stroke="#000" stroke-width="1.5" fill="none"/>
<line x1="596" y1="308" x2="604.5" y2="308" stroke="#000" stroke-width="1" />
<path d="M603.4,344 L603.4,369 Q604,384 612,386" stroke="#000" stroke-width="1" fill="none"/>
<line x1="605" y1="372.8" x2="621" y2="372.8" stroke="#000" stroke-width="2" />
<line x1="605" y1="375.5" x2="621" y2="375.5" stroke="#000" stroke-width="1" />
<path d="M621,404.5 L621,354.5 L652,354.5 Q658,355 658,361 L658,375 L705,375 L705,374 L737,374 L744.5,378.5 L744.5,397.5 L737,404.5 L621,404.5" stroke="#000" stroke-width="1.2" fill="none"/>
<line x1="621" y1="390.5" x2="744.5" y2="390.5" stroke="#000" stroke-width="1" />
<line x1="733.5" y1="374" x2="733.5" y2="404.5" stroke="#000" stroke-width="1" />
<path d="M621,379 L617,379 Q613.5,381 613.5,387 L613.5,392 Q613.5,398 617,398.5 L621,398.5" stroke="#000" stroke-width="1" fill="none"/>
<line x1="667.5" y1="169" x2="667.5" y2="405" stroke="#000" stroke-width="1.2" />
<line x1="705.5" y1="176" x2="705.5" y2="218" stroke="#000" stroke-width="1.2" />
<line x1="705.5" y1="254" x2="705.5" y2="375" stroke="#000" stroke-width="1.2" />
<line x1="745" y1="397.5" x2="835" y2="397.5" stroke="#000" stroke-width="1.2" />
<rect x="835.5" y="174.5" width="31.5" height="225.5" stroke="#000" stroke-width="1.2" fill="none"/>
<path d="M867,174.5 Q873,176 873.5,180 L873.5,393 Q873,399 867,400" stroke="#000" stroke-width="1.2" fill="none"/>
<line x1="875" y1="191" x2="875" y2="222" stroke="#000" stroke-width="2" />
<path d="M873.5,304.5 L878,304.5 L909.5,313 L911.5,316 L911.5,341 L909.5,343 L878,351 L873.5,351" stroke="#000" stroke-width="1.2" fill="none"/>
<line x1="878" y1="304.5" x2="878" y2="351" stroke="#000" stroke-width="1" />
<line x1="629.3" y1="404" x2="629.3" y2="417" stroke="#000" stroke-width="1" />
<line x1="631.4" y1="404" x2="631.4" y2="417" stroke="#000" stroke-width="1" />
<line x1="635.8" y1="404" x2="635.8" y2="417" stroke="#000" stroke-width="1" />
<line x1="638.5" y1="404" x2="638.5" y2="417" stroke="#000" stroke-width="1" />
<line x1="669" y1="405" x2="672.5" y2="417" stroke="#000" stroke-width="1" />
<line x1="600" y1="390.6" x2="595.8" y2="416.6" stroke="#000" stroke-width="1" stroke-dasharray="2,1"/>
<line x1="596" y1="415" x2="672" y2="415" stroke="#000" stroke-width="1" />
<rect x="587" y="418.5" width="94.5" height="24.5" stroke="#000" stroke-width="2" fill="#fff"/>
<line x1="610.5" y1="419" x2="610.5" y2="443" stroke="#000" stroke-width="1.5" />
<line x1="657.5" y1="419" x2="657.5" y2="443" stroke="#000" stroke-width="1.5" />
<line x1="594" y1="447" x2="674" y2="447" stroke="#000" stroke-width="1" />
<line x1="592" y1="450.5" x2="675" y2="450.5" stroke="#000" stroke-width="2" />
<line x1="594" y1="453.5" x2="674" y2="453.5" stroke="#000" stroke-width="1.5" />
<path d="M578,459.5 Q633,450 690,459.5" stroke="#00ff00" stroke-width="1" fill="none"/>
<clipPath id="c594_456"><rect x="594.5" y="456" width="15.0" height="34"/></clipPath>
<g clip-path="url(#c594_456)"><line x1="594.5" y1="441.0" x2="609.5" y2="456.0" stroke="#ffff00" stroke-width="1"/><line x1="594.5" y1="456.0" x2="609.5" y2="441.0" stroke="#ffff00" stroke-width="1"/><line x1="594.5" y1="450.0" x2="609.5" y2="465.0" stroke="#ffff00" stroke-width="1"/><line x1="594.5" y1="465.0" x2="609.5" y2="450.0" stroke="#ffff00" stroke-width="1"/><line x1="594.5" y1="459.0" x2="609.5" y2="474.0" stroke="#ffff00" stroke-width="1"/><line x1="594.5" y1="474.0" x2="609.5" y2="459.0" stroke="#ffff00" stroke-width="1"/><line x1="594.5" y1="468.0" x2="609.5" y2="483.0" stroke="#ffff00" stroke-width="1"/><line x1="594.5" y1="483.0" x2="609.5" y2="468.0" stroke="#ffff00" stroke-width="1"/><line x1="594.5" y1="477.0" x2="609.5" y2="492.0" stroke="#ffff00" stroke-width="1"/><line x1="594.5" y1="492.0" x2="609.5" y2="477.0" stroke="#ffff00" stroke-width="1"/><line x1="594.5" y1="486.0" x2="609.5" y2="501.0" stroke="#ffff00" stroke-width="1"/><line x1="594.5" y1="501.0" x2="609.5" y2="486.0" stroke="#ffff00" stroke-width="1"/><line x1="594.5" y1="495.0" x2="609.5" y2="510.0" stroke="#ffff00" stroke-width="1"/><line x1="594.5" y1="510.0" x2="609.5" y2="495.0" stroke="#ffff00" stroke-width="1"/><line x1="594.5" y1="504.0" x2="609.5" y2="519.0" stroke="#ffff00" stroke-width="1"/><line x1="594.5" y1="519.0" x2="609.5" y2="504.0" stroke="#ffff00" stroke-width="1"/></g>
<polyline points="594.5,456.0 599.5,459.6 594.5,463.3 599.5,466.9 594.5,470.6 599.5,474.2 594.5,477.9 599.5,481.5 594.5,485.2 599.5,488.8" stroke="#000" stroke-width="1" fill="none" />
<line x1="609.5" y1="456" x2="609.5" y2="490" stroke="#000" stroke-width="1.5" />
<clipPath id="c673_456"><rect x="658.5" y="456" width="15.0" height="34"/></clipPath>
<g clip-path="url(#c673_456)"><line x1="658.5" y1="441.0" x2="673.5" y2="456.0" stroke="#ffff00" stroke-width="1"/><line x1="658.5" y1="456.0" x2="673.5" y2="441.0" stroke="#ffff00" stroke-width="1"/><line x1="658.5" y1="450.0" x2="673.5" y2="465.0" stroke="#ffff00" stroke-width="1"/><line x1="658.5" y1="465.0" x2="673.5" y2="450.0" stroke="#ffff00" stroke-width="1"/><line x1="658.5" y1="459.0" x2="673.5" y2="474.0" stroke="#ffff00" stroke-width="1"/><line x1="658.5" y1="474.0" x2="673.5" y2="459.0" stroke="#ffff00" stroke-width="1"/><line x1="658.5" y1="468.0" x2="673.5" y2="483.0" stroke="#ffff00" stroke-width="1"/><line x1="658.5" y1="483.0" x2="673.5" y2="468.0" stroke="#ffff00" stroke-width="1"/><line x1="658.5" y1="477.0" x2="673.5" y2="492.0" stroke="#ffff00" stroke-width="1"/><line x1="658.5" y1="492.0" x2="673.5" y2="477.0" stroke="#ffff00" stroke-width="1"/><line x1="658.5" y1="486.0" x2="673.5" y2="501.0" stroke="#ffff00" stroke-width="1"/><line x1="658.5" y1="501.0" x2="673.5" y2="486.0" stroke="#ffff00" stroke-width="1"/><line x1="658.5" y1="495.0" x2="673.5" y2="510.0" stroke="#ffff00" stroke-width="1"/><line x1="658.5" y1="510.0" x2="673.5" y2="495.0" stroke="#ffff00" stroke-width="1"/><line x1="658.5" y1="504.0" x2="673.5" y2="519.0" stroke="#ffff00" stroke-width="1"/><line x1="658.5" y1="519.0" x2="673.5" y2="504.0" stroke="#ffff00" stroke-width="1"/></g>
<polyline points="673.5,456.0 668.5,459.6 673.5,463.3 668.5,466.9 673.5,470.6 668.5,474.2 673.5,477.9 668.5,481.5 673.5,485.2 668.5,488.8" stroke="#000" stroke-width="1" fill="none" />
<line x1="658.5" y1="456" x2="658.5" y2="490" stroke="#000" stroke-width="1.5" />
<line x1="609.5" y1="490" x2="658.5" y2="490" stroke="#000" stroke-width="2" />
<line x1="37" y1="84.5" x2="220" y2="84.5" stroke="#00ff00" stroke-width="1" />
<line x1="43.5" y1="85" x2="43.5" y2="490" stroke="#00ff00" stroke-width="1" />
<rect x="42.0" y="87.5" width="3" height="4.0" fill="#00ff00"/>
<rect x="41.0" y="91.5" width="5" height="3.0" fill="#00ff00"/>
<rect x="42.0" y="483.5" width="3" height="4.0" fill="#00ff00"/>
<rect x="41.0" y="480.5" width="5" height="3.0" fill="#00ff00"/>
<line x1="37" y1="490.5" x2="148" y2="490.5" stroke="#00ff00" stroke-width="1" />
<text transform="translate(42,325) rotate(-90)" font-size="21.5" fill="#00ff00" font-family="Liberation Mono" font-weight="bold" textLength="36" lengthAdjust="spacingAndGlyphs">108.00</text>
<g transform="translate(41.5,288) rotate(-90)"><line x1="0" y1="-8.7" x2="10" y2="-8.7" stroke="#00ff00" stroke-width="2"/><line x1="5.0" y1="-14" x2="5.0" y2="-3.5" stroke="#00ff00" stroke-width="2"/><rect x="0" y="-2" width="10" height="2" fill="#00ff00"/></g>
<text transform="translate(42,276) rotate(-90)" font-size="21.5" fill="#00ff00" font-family="Liberation Mono" font-weight="bold" textLength="25" lengthAdjust="spacingAndGlyphs">0.50</text>
<line x1="85" y1="287.5" x2="112" y2="287.5" stroke="#00ff00" stroke-width="1" />
<line x1="91.5" y1="288" x2="91.5" y2="490" stroke="#00ff00" stroke-width="1" />
<rect x="90.0" y="290.5" width="3" height="4.0" fill="#00ff00"/>
<rect x="89.0" y="294.5" width="5" height="3.0" fill="#00ff00"/>
<rect x="90.0" y="483.5" width="3" height="4.0" fill="#00ff00"/>
<rect x="89.0" y="480.5" width="5" height="3.0" fill="#00ff00"/>
<text transform="translate(89.5,405.5) rotate(-90)" font-size="19" fill="#00ff00" font-family="Liberation Mono" font-weight="bold" textLength="31.5" lengthAdjust="spacingAndGlyphs">54.00</text>
<line x1="185.5" y1="521" x2="185.5" y2="546" stroke="#00ff00" stroke-width="1" />
<line x1="256.5" y1="429" x2="256.5" y2="546" stroke="#00ff00" stroke-width="1" />
<line x1="186" y1="539.5" x2="256" y2="539.5" stroke="#00ff00" stroke-width="1" />
<rect x="188.5" y="538.0" width="4.0" height="3" fill="#00ff00"/>
<rect x="192.5" y="537.0" width="3.0" height="5" fill="#00ff00"/>
<rect x="249.5" y="538.0" width="4.0" height="3" fill="#00ff00"/>
<rect x="246.5" y="537.0" width="3.0" height="5" fill="#00ff00"/>
<text transform="translate(205,538)" font-size="19" fill="#00ff00" font-family="Liberation Mono" font-weight="bold" textLength="31" lengthAdjust="spacingAndGlyphs">18.80</text>
<line x1="256.5" y1="55" x2="256.5" y2="99" stroke="#ff0000" stroke-width="1" />
<line x1="256.5" y1="104" x2="256.5" y2="380" stroke="#ff0000" stroke-width="1" stroke-dasharray="7,5,36,5"/>
<line x1="256.5" y1="380" x2="256.5" y2="429" stroke="#ff0000" stroke-width="1" />
<line x1="115" y1="287.5" x2="398" y2="287.5" stroke="#ff0000" stroke-width="1" stroke-dasharray="26,3,8,3"/>
<line x1="185.5" y1="308" x2="185.5" y2="362" stroke="#ff0000" stroke-width="1" />
<line x1="185.5" y1="368" x2="185.5" y2="519" stroke="#ff0000" stroke-width="1" />
<line x1="497" y1="287.5" x2="903" y2="287.5" stroke="#ff0000" stroke-width="1" stroke-dasharray="36,5,6,6"/>
<line x1="566.5" y1="55" x2="566.5" y2="175" stroke="#ff0000" stroke-width="1" stroke-dasharray="20,4,5,4"/>
<line x1="566.5" y1="290" x2="566.5" y2="359" stroke="#ff0000" stroke-width="1" />
<line x1="633.5" y1="308" x2="633.5" y2="519" stroke="#ff0000" stroke-width="1" stroke-dasharray="50,4,5,4"/>
<line x1="526.5" y1="21" x2="526.5" y2="85" stroke="#00ff00" stroke-width="1" />
<line x1="605.5" y1="21" x2="605.5" y2="85" stroke="#00ff00" stroke-width="1" />
<line x1="527" y1="27.5" x2="605" y2="27.5" stroke="#00ff00" stroke-width="1" />
<rect x="529.5" y="26.0" width="4.0" height="3" fill="#00ff00"/>
<rect x="533.5" y="25.0" width="3.0" height="5" fill="#00ff00"/>
<rect x="598.5" y="26.0" width="4.0" height="3" fill="#00ff00"/>
<rect x="595.5" y="25.0" width="3.0" height="5" fill="#00ff00"/>
<text transform="translate(551,25)" font-size="19" fill="#00ff00" font-family="Liberation Mono" font-weight="bold" textLength="31.5" lengthAdjust="spacingAndGlyphs">G 1/2</text>
<line x1="539.5" y1="42" x2="539.5" y2="85" stroke="#00ff00" stroke-width="1" />
<line x1="592.5" y1="42" x2="592.5" y2="85" stroke="#00ff00" stroke-width="1" />
<line x1="540" y1="48.5" x2="592" y2="48.5" stroke="#00ff00" stroke-width="1" />
<rect x="542.5" y="47.0" width="4.0" height="3" fill="#00ff00"/>
<rect x="546.5" y="46.0" width="3.0" height="5" fill="#00ff00"/>
<rect x="585.5" y="47.0" width="4.0" height="3" fill="#00ff00"/>
<rect x="582.5" y="46.0" width="3.0" height="5" fill="#00ff00"/>
<text transform="translate(547,48)" font-size="19" fill="#00ff00" font-family="Liberation Mono" font-weight="bold" textLength="39" lengthAdjust="spacingAndGlyphs">Φ14.20</text>
<line x1="493" y1="85.5" x2="527" y2="85.5" stroke="#00ff00" stroke-width="1" />
<line x1="493" y1="131.5" x2="519" y2="131.5" stroke="#00ff00" stroke-width="1" />
<line x1="499.5" y1="86" x2="499.5" y2="131" stroke="#00ff00" stroke-width="1" />
<rect x="498.0" y="88.5" width="3" height="4.0" fill="#00ff00"/>
<rect x="497.0" y="92.5" width="5" height="3.0" fill="#00ff00"/>
<rect x="498.0" y="124.5" width="3" height="4.0" fill="#00ff00"/>
<rect x="497.0" y="121.5" width="5" height="3.0" fill="#00ff00"/>
<text transform="translate(498,124) rotate(-90)" font-size="19" fill="#00ff00" font-family="Liberation Mono" font-weight="bold" textLength="31" lengthAdjust="spacingAndGlyphs">12.50</text>
<line x1="526.5" y1="288" x2="526.5" y2="629" stroke="#00ff00" stroke-width="1" />
<line x1="566.5" y1="360" x2="566.5" y2="602" stroke="#00ff00" stroke-width="1" />
<line x1="633.5" y1="521" x2="633.5" y2="576" stroke="#00ff00" stroke-width="1" />
<line x1="681" y1="443.5" x2="723" y2="443.5" stroke="#00ff00" stroke-width="1" />
<line x1="674" y1="490.5" x2="723" y2="490.5" stroke="#00ff00" stroke-width="1" />
<line x1="716" y1="444" x2="716" y2="490" stroke="#00ff00" stroke-width="1" />
<rect x="714.5" y="446.5" width="3" height="4.0" fill="#00ff00"/>
<rect x="713.5" y="450.5" width="5" height="3.0" fill="#00ff00"/>
<rect x="714.5" y="483.5" width="3" height="4.0" fill="#00ff00"/>
<rect x="713.5" y="480.5" width="5" height="3.0" fill="#00ff00"/>
<text transform="translate(715,484) rotate(-90)" font-size="19" fill="#00ff00" font-family="Liberation Mono" font-weight="bold" textLength="32" lengthAdjust="spacingAndGlyphs">12.50</text>
<line x1="609.5" y1="490" x2="609.5" y2="522" stroke="#00ff00" stroke-width="1" />
<line x1="658.5" y1="490" x2="658.5" y2="522" stroke="#00ff00" stroke-width="1" />
<line x1="610" y1="515.5" x2="658" y2="515.5" stroke="#00ff00" stroke-width="1" />
<rect x="612.5" y="514.0" width="4.0" height="3" fill="#00ff00"/>
<rect x="616.5" y="513.0" width="3.0" height="5" fill="#00ff00"/>
<rect x="651.5" y="514.0" width="4.0" height="3" fill="#00ff00"/>
<rect x="648.5" y="513.0" width="3.0" height="5" fill="#00ff00"/>
<line x1="658" y1="515.5" x2="725" y2="515.5" stroke="#00ff00" stroke-width="1" />
<text transform="translate(684,514)" font-size="19" fill="#00ff00" font-family="Liberation Mono" font-weight="bold" textLength="40" lengthAdjust="spacingAndGlyphs">ø13.20</text>
<line x1="594.5" y1="490" x2="594.5" y2="547" stroke="#00ff00" stroke-width="1" />
<line x1="673.5" y1="490" x2="673.5" y2="547" stroke="#00ff00" stroke-width="1" />
<line x1="595" y1="540.5" x2="673" y2="540.5" stroke="#00ff00" stroke-width="1" />
<rect x="597.5" y="539.0" width="4.0" height="3" fill="#00ff00"/>
<rect x="601.5" y="538.0" width="3.0" height="5" fill="#00ff00"/>
<rect x="666.5" y="539.0" width="4.0" height="3" fill="#00ff00"/>
<rect x="663.5" y="538.0" width="3.0" height="5" fill="#00ff00"/>
<line x1="673" y1="540.5" x2="718" y2="540.5" stroke="#00ff00" stroke-width="1" />
<text transform="translate(684,537.5)" font-size="19" fill="#00ff00" font-family="Liberation Mono" font-weight="bold" textLength="32" lengthAdjust="spacingAndGlyphs">G 1/2</text>
<line x1="567" y1="569.5" x2="633" y2="569.5" stroke="#00ff00" stroke-width="1" />
<rect x="569.5" y="568.0" width="4.0" height="3" fill="#00ff00"/>
<rect x="573.5" y="567.0" width="3.0" height="5" fill="#00ff00"/>
<rect x="626.5" y="568.0" width="4.0" height="3" fill="#00ff00"/>
<rect x="623.5" y="567.0" width="3.0" height="5" fill="#00ff00"/>
<text transform="translate(585,568.5)" font-size="19" fill="#00ff00" font-family="Liberation Mono" font-weight="bold" textLength="30.5" lengthAdjust="spacingAndGlyphs">18.00</text>
<line x1="873.5" y1="392" x2="873.5" y2="630" stroke="#00ff00" stroke-width="1" />
<line x1="567" y1="596.5" x2="873" y2="596.5" stroke="#00ff00" stroke-width="1" />
<rect x="569.5" y="595.0" width="4.0" height="3" fill="#00ff00"/>
<rect x="573.5" y="594.0" width="3.0" height="5" fill="#00ff00"/>
<rect x="866.5" y="595.0" width="4.0" height="3" fill="#00ff00"/>
<rect x="863.5" y="594.0" width="3.0" height="5" fill="#00ff00"/>
<text transform="translate(704,595)" font-size="19" fill="#00ff00" font-family="Liberation Mono" font-weight="bold" textLength="31" lengthAdjust="spacingAndGlyphs">81.70</text>
<line x1="526.5" y1="622.5" x2="873" y2="622.5" stroke="#00ff00" stroke-width="1" />
<rect x="529.0" y="621.0" width="4.0" height="3" fill="#00ff00"/>
<rect x="533.0" y="620.0" width="3.0" height="5" fill="#00ff00"/>
<rect x="866.5" y="621.0" width="4.0" height="3" fill="#00ff00"/>
<rect x="863.5" y="620.0" width="3.0" height="5" fill="#00ff00"/>
<circle cx="654" cy="612" r="8.5" stroke="#00ff00" stroke-width="1" fill="none"/>
<text transform="translate(650.5,620)" font-size="17" fill="#00ff00" font-family="Liberation Mono" font-weight="bold" textLength="8" lengthAdjust="spacingAndGlyphs">1</text>
<text transform="translate(665,621.5)" font-size="19" fill="#00ff00" font-family="Liberation Mono" font-weight="bold" textLength="32" lengthAdjust="spacingAndGlyphs">92.20</text>
<g transform="translate(698,621.5) rotate(0)"><line x1="0" y1="-8.7" x2="10" y2="-8.7" stroke="#00ff00" stroke-width="2"/><line x1="5.0" y1="-14" x2="5.0" y2="-3.5" stroke="#00ff00" stroke-width="2"/><rect x="0" y="-2" width="10" height="2" fill="#00ff00"/></g>
<text transform="translate(708.5,621.5)" font-size="19" fill="#00ff00" font-family="Liberation Mono" font-weight="bold" textLength="26.5" lengthAdjust="spacingAndGlyphs">1.00</text>
</svg></body></html>
